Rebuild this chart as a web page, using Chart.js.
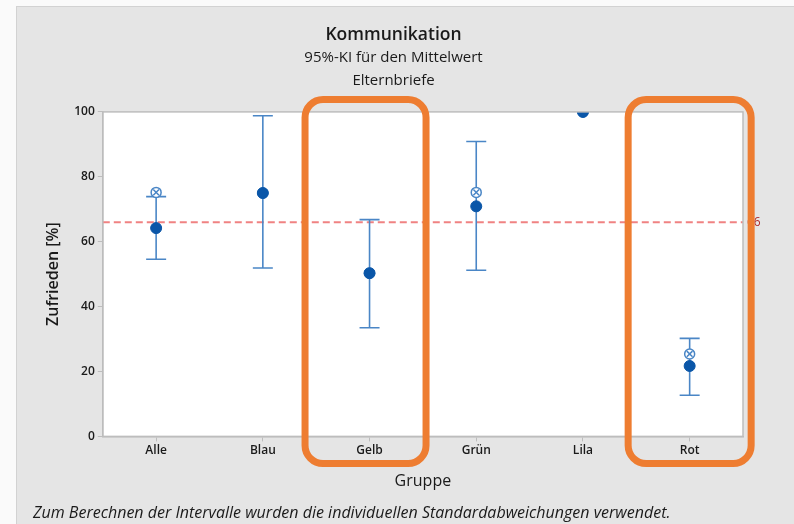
<!DOCTYPE html>
<html>
<head>
<meta charset="utf-8">
<script src="https://cdn.jsdelivr.net/npm/chart.js@4.4.1/dist/chart.umd.min.js"></script>
<style>
  html, body { margin: 0; padding: 0; background: #fafafa; }
  #wrap { width: 794px; height: 524px; position: relative; }
</style>
</head>
<body>
<div id="wrap"><canvas id="intervalChart"></canvas></div>
<script>
// ===== DATA =====
const categories = ['Alle', 'Blau', 'Gelb', 'Grün', 'Lila', 'Rot'];
const means = [64.2, 75, 50.3, 70.9, 100, 21.7];
const medians = [75.2, 75, 50.3, 75.2, 100, 25.4];
const upper = [73.9, 98.8, 66.8, 90.9, null, 30.2];
const lower = [54.6, 51.9, 33.5, 51.2, null, 12.7];
const yTicks = [0, 20, 40, 60, 80, 100];
const refValue = 66;
const highlighted = ['Gelb', 'Rot'];

const FONT = '"Open Sans", "Noto Sans", sans-serif';
const BLUE_DARK = '#0a56a8';
const BLUE_LINE = '#4a86c6';

// ===== BACKGROUND + FRAME =====
const backgroundPlugin = {
    id: 'background',
    beforeDraw(chart) {
        const { ctx, chartArea: a } = chart;
        ctx.save();
        ctx.fillStyle = '#e5e5e5';
        ctx.fillRect(16, 6, chart.width - 16, chart.height - 6);
        ctx.fillStyle = '#d2d2d2';
        ctx.fillRect(16, 6, 1, chart.height - 6);
        ctx.fillRect(16, 6, chart.width - 16, 1);
        ctx.fillStyle = '#ffffff';
        ctx.fillRect(a.left, a.top, a.right - a.left, a.bottom - a.top);
        ctx.restore();
    },
    afterDraw(chart) {
        const { ctx, chartArea: a } = chart;
        ctx.save();
        ctx.strokeStyle = '#bdbdbd';
        ctx.lineWidth = 1.5;
        ctx.strokeRect(a.left, a.top, a.right - a.left, a.bottom - a.top);
        ctx.restore();
    }
};

// ===== ERROR BARS + REFERENCE LINE =====
const intervalPlugin = {
    id: 'intervals',
    beforeDatasetsDraw(chart) {
        const { ctx, chartArea: a, scales: { x, y } } = chart;
        ctx.save();
        ctx.beginPath();
        ctx.rect(a.left, a.top, a.right - a.left, a.bottom - a.top);
        ctx.clip();

        // reference line
        const ry = y.getPixelForValue(refValue);
        ctx.strokeStyle = '#f08282';
        ctx.lineWidth = 1.8;
        ctx.setLineDash([7, 4]);
        ctx.beginPath();
        ctx.moveTo(a.left, ry);
        ctx.lineTo(a.right, ry);
        ctx.stroke();
        ctx.setLineDash([]);

        // intervals
        ctx.strokeStyle = BLUE_LINE;
        ctx.lineWidth = 1.6;
        categories.forEach((c, i) => {
            if (upper[i] == null || lower[i] == null) return;
            const px = x.getPixelForValue(i);
            const yt = y.getPixelForValue(upper[i]);
            const yb = y.getPixelForValue(lower[i]);
            ctx.beginPath();
            ctx.moveTo(px, yt); ctx.lineTo(px, yb);
            ctx.moveTo(px - 10, yt); ctx.lineTo(px + 10, yt);
            ctx.moveTo(px - 10, yb); ctx.lineTo(px + 10, yb);
            ctx.stroke();
        });
        ctx.restore();

        // reference label
        ctx.save();
        ctx.fillStyle = '#b02a2a';
        ctx.font = '12px ' + FONT;
        ctx.textBaseline = 'middle';
        ctx.fillText(String(refValue), a.right + 4, ry);
        ctx.restore();
    }
};

// ===== HIGHLIGHT BOXES + FOOTNOTE =====
// box extents relative to the category centre (stroke centre line)
const boxShape = { Gelb: [-64.5, 56.5], Rot: [-61.5, 61.5] };

const annotationPlugin = {
    id: 'annotations',
    afterDraw(chart) {
        const { ctx, scales: { x } } = chart;
        ctx.save();
        ctx.strokeStyle = '#ee7d31';
        ctx.lineWidth = 7;
        highlighted.forEach(name => {
            const cx = x.getPixelForValue(categories.indexOf(name));
            const left = cx + boxShape[name][0], right = cx + boxShape[name][1];
            const top = 99.5, bottom = 463.5, r = 18;
            ctx.beginPath();
            ctx.roundRect(left, top, right - left, bottom - top, r);
            ctx.stroke();
        });
        ctx.restore();

        ctx.save();
        ctx.fillStyle = '#1a1a1a';
        ctx.font = 'italic 16px ' + FONT;
        ctx.textBaseline = 'middle';
        ctx.fillText('Zum Berechnen der Intervalle wurden die individuellen Standardabweichungen verwendet.', 33, 513);
        ctx.restore();
    }
};

const ctx = document.getElementById('intervalChart');
new Chart(ctx, {
    type: 'line',
    data: {
        labels: categories,
        datasets: [
            {
                label: 'Mittelwert',
                data: means,
                showLine: false,
                pointStyle: 'circle',
                pointRadius: 5.5,
                pointBackgroundColor: BLUE_DARK,
                pointBorderColor: BLUE_DARK,
                pointBorderWidth: 1,
                order: 0
            },
            {
                label: 'Median',
                data: medians,
                showLine: false,
                pointStyle: 'circle',
                pointRadius: 5,
                pointBackgroundColor: '#ffffff',
                pointBorderColor: BLUE_LINE,
                pointBorderWidth: 1.5,
                order: 2
            },
            {
                label: 'Median x',
                data: medians,
                showLine: false,
                pointStyle: 'crossRot',
                pointRadius: 4,
                pointBorderColor: BLUE_LINE,
                pointBorderWidth: 1.5,
                order: 1
            }
        ]
    },
    options: {
        responsive: true,
        maintainAspectRatio: false,
        animation: false,
        events: [],
        layout: { padding: { top: 24.5, left: 44, right: 51, bottom: 33 } },
        plugins: {
            legend: { display: false },
            tooltip: { enabled: false },
            title: {
                display: true,
                text: 'Kommunikation',
                color: '#1a1a1a',
                font: { family: FONT, size: 17.5, weight: '600' },
                padding: { top: 0, bottom: 1 }
            },
            subtitle: {
                display: true,
                text: ['95%-KI für den Mittelwert', 'Elternbriefe'],
                color: '#1a1a1a',
                font: { family: FONT, size: 15, lineHeight: 1.53 },
                padding: { top: 0, bottom: 19.5 }
            }
        },
        scales: {
            x: {
                offset: true,
                grid: { display: true, drawOnChartArea: false, tickLength: 5, color: '#bdbdbd' },
                border: { color: '#bdbdbd', width: 1.5 },
                ticks: { color: '#1a1a1a', font: { family: FONT, size: 12, weight: '600' }, padding: 2 },
                title: {
                    display: true,
                    text: 'Gruppe',
                    color: '#1a1a1a',
                    font: { family: FONT, size: 16 },
                    padding: { top: 12, bottom: 0 }
                }
            },
            y: {
                min: 0,
                max: 100,
                afterBuildTicks(axis) {
                    axis.ticks = yTicks.map(v => ({ value: v }));
                },
                grid: { display: true, drawOnChartArea: false, tickLength: 5, color: '#bdbdbd' },
                border: { color: '#bdbdbd', width: 1.5 },
                ticks: { color: '#1a1a1a', font: { family: FONT, size: 12, weight: '600' }, padding: 3 },
                title: {
                    display: true,
                    text: 'Zufrieden [%]',
                    color: '#1a1a1a',
                    font: { family: FONT, size: 16, weight: '600' },
                    padding: { top: 0, bottom: 8 }
                }
            }
        }
    },
    plugins: [backgroundPlugin, intervalPlugin, annotationPlugin]
});
</script>
</body>
</html>
